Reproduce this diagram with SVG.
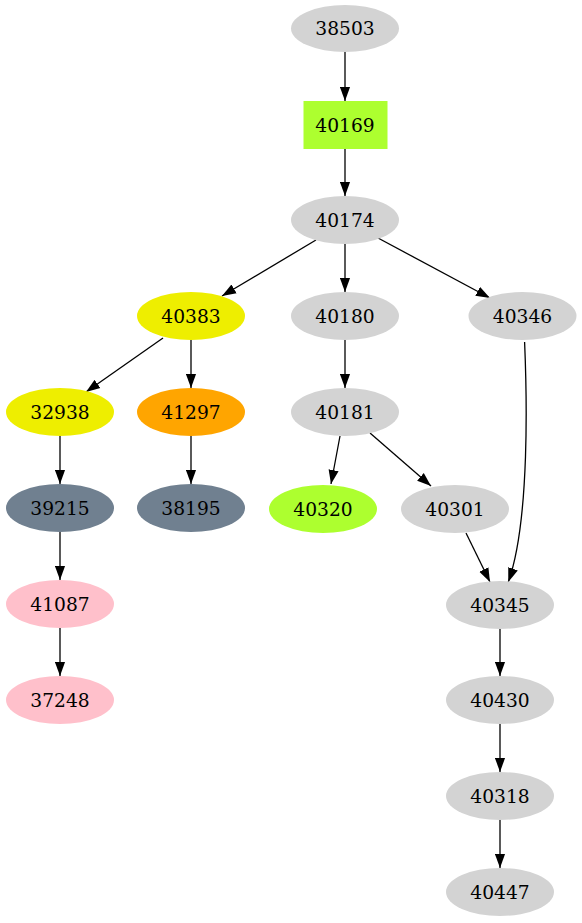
<svg xmlns="http://www.w3.org/2000/svg" width="582" height="923" viewBox="0 0 582 923">
<defs>
<marker id="ah" markerUnits="userSpaceOnUse" markerWidth="14" markerHeight="11" refX="13" refY="4.7" orient="auto" viewBox="0 0 13 9.4">
<polygon points="0,0 13,4.7 0,9.4" fill="#000"/>
</marker>
<style>
.n text{font-family:"DejaVu Serif",serif;font-size:18.67px;text-anchor:middle;dominant-baseline:central;fill:#000}
.e path{fill:none;stroke:#000;stroke-width:1.3;marker-end:url(#ah)}
</style>
</defs>
<rect width="582" height="923" fill="#fff"/>
<g id="edges" class="e">
<path d="M345,52 L345,101"/>
<path d="M345,149 L345,196"/>
<path d="M316,240 L222,296"/>
<path d="M345,244 L345,292"/>
<path d="M378,238 L490,298"/>
<path d="M163,338 L86,392"/>
<path d="M191,340 L191,388"/>
<path d="M345,340 L345,388"/>
<path d="M524.6,342 C526.6,390 530.4,520 508.3,582"/>
<path d="M60,436 L60,484"/>
<path d="M191,436 L191,484"/>
<path d="M340,436 L331,484"/>
<path d="M370,433 L431,486"/>
<path d="M466,533 L490,582"/>
<path d="M60,532 L60,580"/>
<path d="M60,628 L60,676"/>
<path d="M500,628 L500,676"/>
<path d="M500,724 L500,772"/>
<path d="M500,820 L500,868"/>
</g>
<g id="n38503" class="n"><ellipse cx="345" cy="28.5" rx="54" ry="23.5" fill="#d3d3d3"/><text x="345" y="28.5">38503</text></g>
<g id="n40169" class="n"><rect x="303.5" y="101" width="84" height="48" fill="#adff2f"/><text x="345" y="125">40169</text></g>
<g id="n40174" class="n"><ellipse cx="345" cy="220" rx="54" ry="24" fill="#d3d3d3"/><text x="345" y="220">40174</text></g>
<g id="n40383" class="n"><ellipse cx="191" cy="316" rx="54" ry="24" fill="#eeee00"/><text x="191" y="316">40383</text></g>
<g id="n40180" class="n"><ellipse cx="345" cy="316" rx="54" ry="24" fill="#d3d3d3"/><text x="345" y="316">40180</text></g>
<g id="n40346" class="n"><ellipse cx="522.5" cy="316" rx="54" ry="24" fill="#d3d3d3"/><text x="522.5" y="316">40346</text></g>
<g id="n32938" class="n"><ellipse cx="60" cy="412" rx="54" ry="24" fill="#eeee00"/><text x="60" y="412">32938</text></g>
<g id="n41297" class="n"><ellipse cx="191" cy="412" rx="54" ry="24" fill="#ffa500"/><text x="191" y="412">41297</text></g>
<g id="n40181" class="n"><ellipse cx="345" cy="412" rx="54" ry="24" fill="#d3d3d3"/><text x="345" y="412">40181</text></g>
<g id="n39215" class="n"><ellipse cx="60" cy="508" rx="54" ry="24" fill="#708090"/><text x="60" y="508">39215</text></g>
<g id="n38195" class="n"><ellipse cx="191" cy="508" rx="54" ry="24" fill="#708090"/><text x="191" y="508">38195</text></g>
<g id="n40320" class="n"><ellipse cx="323" cy="509" rx="54" ry="24" fill="#adff2f"/><text x="323" y="509">40320</text></g>
<g id="n40301" class="n"><ellipse cx="455" cy="509" rx="54" ry="24" fill="#d3d3d3"/><text x="455" y="509">40301</text></g>
<g id="n41087" class="n"><ellipse cx="60" cy="604" rx="54" ry="24" fill="#ffc0cb"/><text x="60" y="604">41087</text></g>
<g id="n40345" class="n"><ellipse cx="500" cy="605" rx="54" ry="24" fill="#d3d3d3"/><text x="500" y="605">40345</text></g>
<g id="n37248" class="n"><ellipse cx="60" cy="700" rx="54" ry="24" fill="#ffc0cb"/><text x="60" y="700">37248</text></g>
<g id="n40430" class="n"><ellipse cx="500" cy="700" rx="54" ry="24" fill="#d3d3d3"/><text x="500" y="700">40430</text></g>
<g id="n40318" class="n"><ellipse cx="500" cy="796" rx="54" ry="24" fill="#d3d3d3"/><text x="500" y="796">40318</text></g>
<g id="n40447" class="n"><ellipse cx="500" cy="892" rx="54" ry="24" fill="#d3d3d3"/><text x="500" y="892">40447</text></g>
</svg>
